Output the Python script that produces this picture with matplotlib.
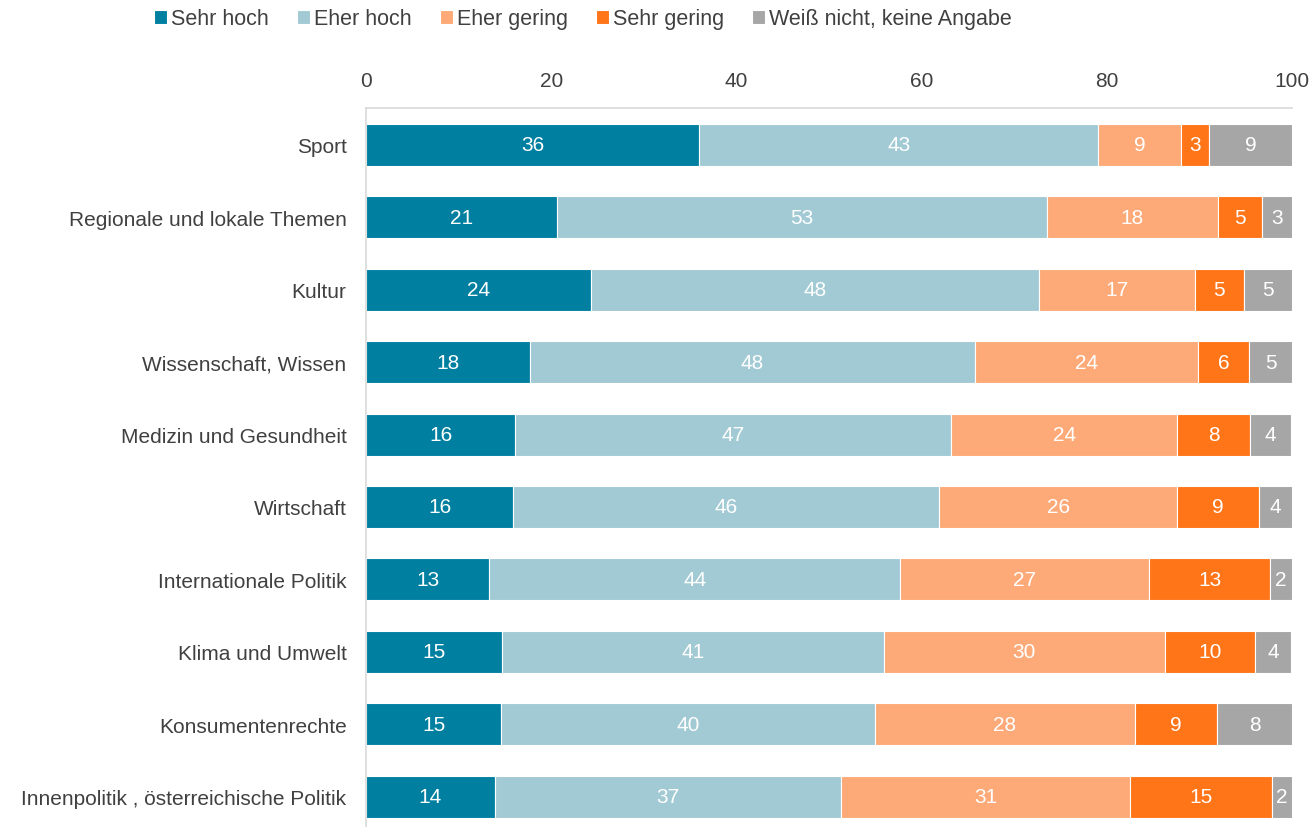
import numpy as np
import matplotlib.pyplot as plt

plt.rcParams['font.family'] = ['Liberation Sans', 'DejaVu Sans']

kategorien = ["Sport", "Regionale und lokale Themen", "Kultur", "Wissenschaft, Wissen",
              "Medizin und Gesundheit", "Wirtschaft", "Internationale Politik",
              "Klima und Umwelt", "Konsumentenrechte", "Innenpolitik , österreichische Politik"]

sehr_hoch = [36.0, 20.6, 24.3, 17.7, 16.1, 15.9, 13.3, 14.7, 14.6, 13.9]
eher_hoch = [43.1, 52.9, 48.4, 48.1, 47.1, 46.0, 44.4, 41.2, 40.4, 37.4]
eher_gering = [8.9, 18.5, 16.8, 24.0, 24.4, 25.7, 26.9, 30.4, 28.0, 31.2]
sehr_gering = [3.0, 4.8, 5.3, 5.6, 7.9, 8.8, 13.0, 9.7, 8.9, 15.3]
weiss_nicht = [9.0, 3.2, 5.2, 4.6, 4.4, 3.6, 2.4, 3.9, 8.1, 2.2]

serien = ["Sehr hoch", "Eher hoch", "Eher gering", "Sehr gering", "Weiß nicht, keine Angabe"]
farben = ["#007FA0", "#A2CAD4", "#FDAA78", "#FF7518", "#A6A6A6"]

werte = [sehr_hoch, eher_hoch, eher_gering, sehr_gering, weiss_nicht]

fig = plt.figure(figsize=(13.16, 8.28), dpi=100)
ax = fig.add_axes([366 / 1316, 0.0, (1292 - 366) / 1316, 1 - 109 / 828])

y = np.arange(len(kategorien))
links = np.zeros(len(kategorien))
for name, farbe, w in zip(serien, farben, werte):
    w = np.array(w)
    bars = ax.barh(y, w, left=links, height=0.58, color=farbe, edgecolor="white",
                   linewidth=0.8, label=name)
    ax.bar_label(bars, labels=[f"{v:.0f}" for v in w], label_type="center",
                 color="white", fontsize=15)
    links += w

ax.set_xlim(0, 100)
ax.set_ylim(9.42, -0.51)
ax.set_yticks(y, kategorien)
ax.set_xticks([0, 20, 40, 60, 80, 100])
ax.xaxis.tick_top()
ax.tick_params(axis="x", length=0, pad=13, labelsize=15, labelcolor="#404040")
ax.tick_params(axis="y", length=0, pad=14, labelsize=15, labelcolor="#404040")
for s in ["right", "bottom"]:
    ax.spines[s].set_visible(False)
for s in ["top", "left"]:
    ax.spines[s].set_color("#D9D9D9")
    ax.spines[s].set_linewidth(1.2)

fig.legend(loc="upper center", bbox_to_anchor=(0.443, 1.012), ncol=5, frameon=False,
           fontsize=15.5, handlelength=0.6, handleheight=0.6, handletextpad=0.2,
           columnspacing=1.3, labelcolor="#404040")

fig.savefig("out.png", dpi=100)
